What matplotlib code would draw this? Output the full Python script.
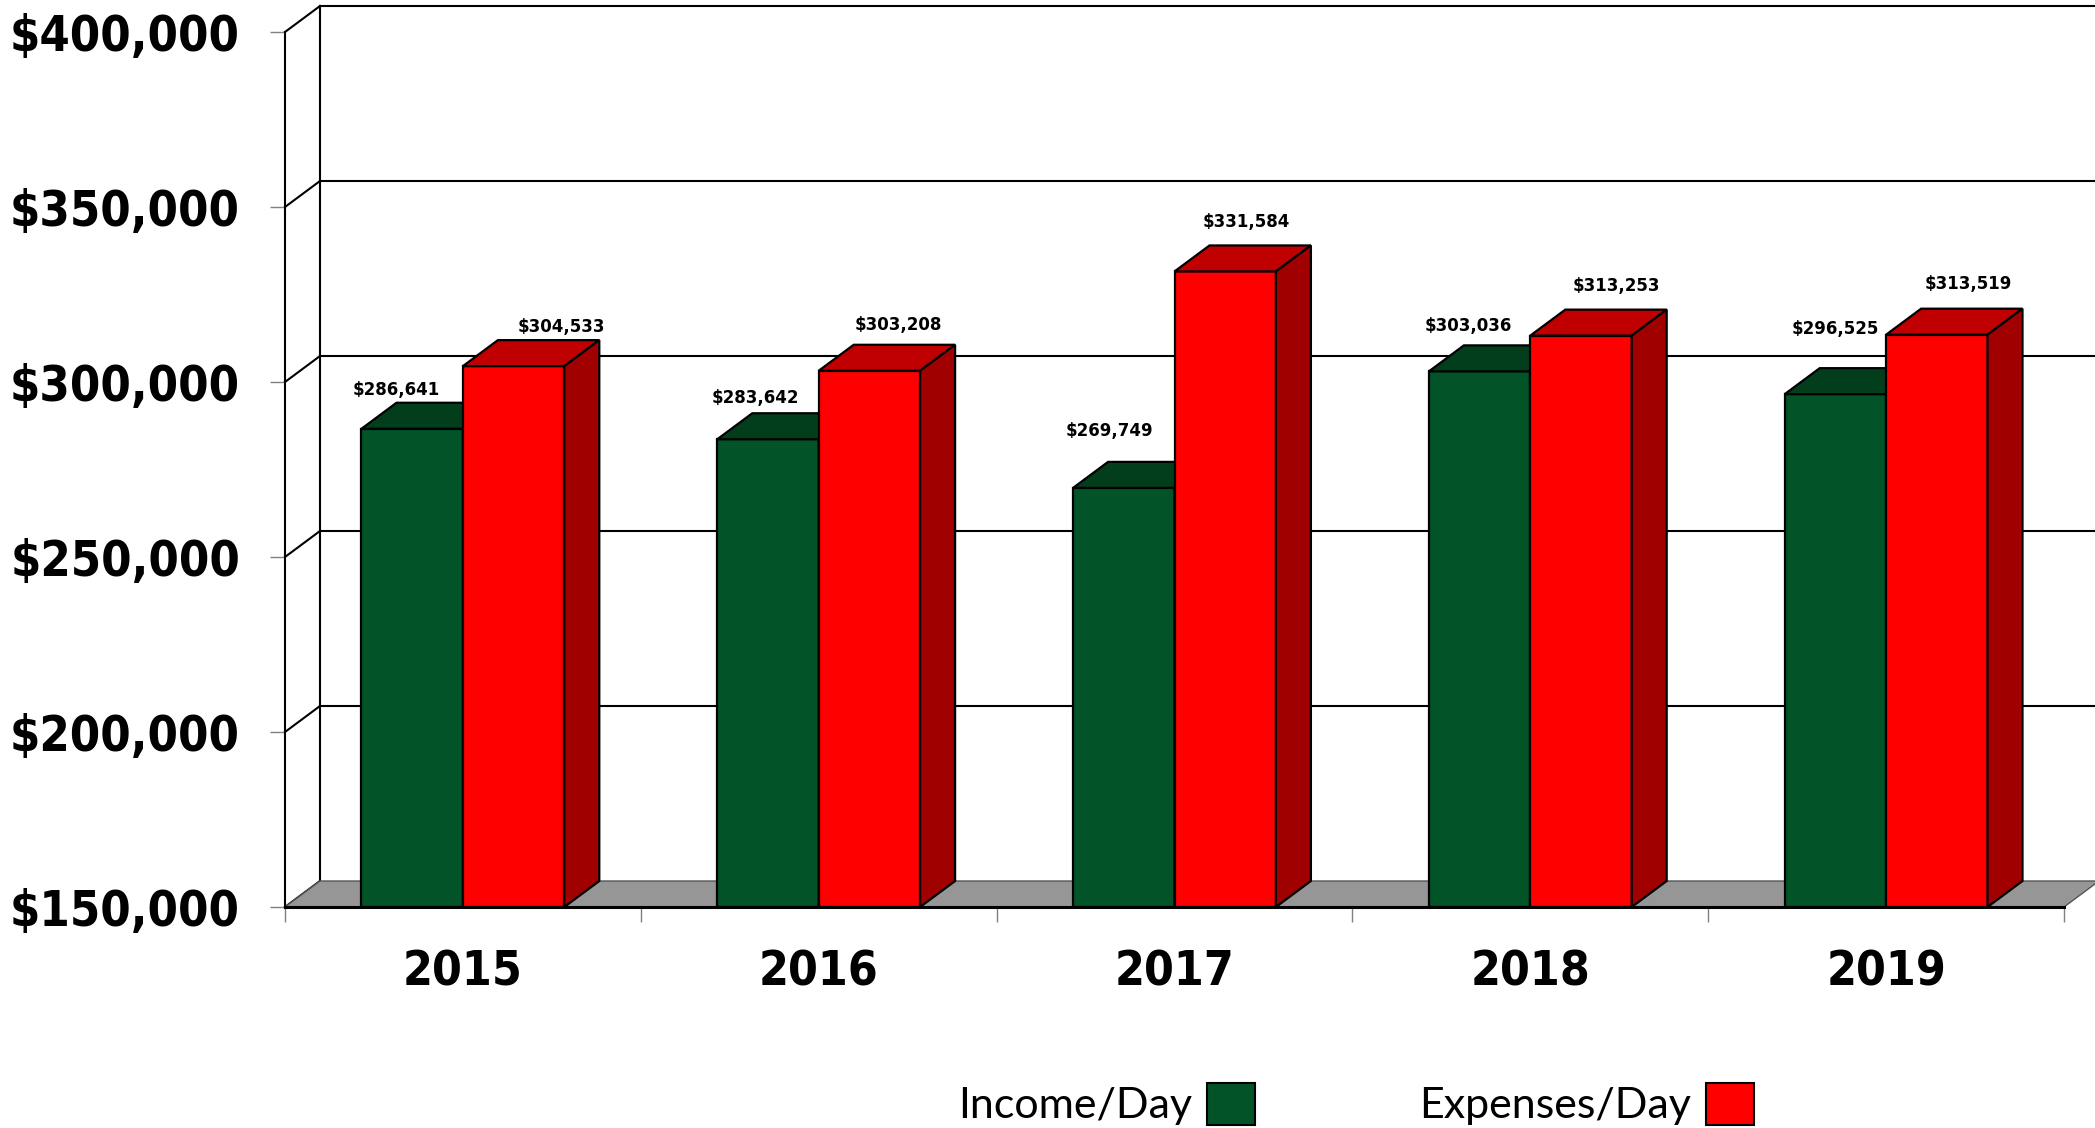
import matplotlib
matplotlib.use("Agg")
import matplotlib.pyplot as plt
from matplotlib.patches import Polygon, Patch
from matplotlib.font_manager import FontProperties
import numpy as np

# ---- data ----
years = ["2015", "2016", "2017", "2018", "2019"]
income_per_day = [286641, 283642, 269749, 303036, 296525]
expenses_per_day = [304533, 303208, 331584, 313253, 313519]
y_ticks = [150000, 200000, 250000, 300000, 350000, 400000]
series_names = ["Income/Day", "Expenses/Day"]

# value-label nudges in pixels (dx right, dy up) from the top-front centre of each bar
income_label_nudge = [(-16, 40), (-13, 43), (-14, 58), (-11, 47), (0, 67)]
expense_label_nudge = [(48, 41), (29, 47), (21, 51), (35, 51), (32, 52)]

# ---- style ----
GREEN_FRONT, GREEN_TOP, GREEN_SIDE = "#025428", "#033E1C", "#02361A"
RED_FRONT, RED_TOP, RED_SIDE = "#FF0000", "#C00000", "#A00000"
FLOOR = "#969696"
DEPTH_PX = (35, 26)          # 3-D depth offset on screen
BAR_W = 0.285

W, H, DPI = 2095, 1128, 100
fig = plt.figure(figsize=(W / DPI, H / DPI), dpi=DPI)
fig.patch.set_facecolor("white")
x0p, x1p, y_bot, y_top = 285, 2064, 907, 32
ax = fig.add_axes([x0p / W, 1 - y_bot / H, (x1p - x0p) / W, (y_bot - y_top) / H])
ax.set_xlim(-0.5, 4.5)
ax.set_ylim(150000, 400000)
ax.patch.set_visible(False)

bold_font = dict(family="DejaVu Sans", weight="bold", stretch="condensed")
label_font = dict(family="DejaVu Sans", weight="bold")

# depth offset in data units
p0 = ax.transData.transform((0, 150000))
p1 = ax.transData.inverted().transform((p0[0] + DEPTH_PX[0], p0[1] + DEPTH_PX[1]))
DX, DY = p1[0] - 0, p1[1] - 150000

ymin, ymax = y_ticks[0], y_ticks[-1]
xl, xr = -0.5, 4.5

# back wall and side-wall grid
ax.plot([xl + DX, xl + DX], [ymin + DY, ymax + DY], color="black", lw=1.5,
        clip_on=False, zorder=1)
for t in y_ticks:
    ax.plot([xl, xl + DX], [t, t + DY], color="black", lw=1.5, clip_on=False, zorder=1)
    if t > ymin:
        ax.plot([xl + DX, xr + DX + 1], [t + DY, t + DY], color="black", lw=1.5,
                clip_on=False, zorder=1)

# floor
floor = Polygon([(xl, ymin), (xr, ymin), (xr + DX, ymin + DY), (xl + DX, ymin + DY)],
                closed=True, facecolor=FLOOR, edgecolor="#555555", lw=1.0,
                clip_on=False, zorder=1.5)
ax.add_patch(floor)

# bars with top and side faces
z = 3.0
x = np.arange(len(years))
for i in range(len(years)):
    for v, off, cols in ((income_per_day[i], -BAR_W, (GREEN_FRONT, GREEN_TOP, GREEN_SIDE)),
                         (expenses_per_day[i], 0.0, (RED_FRONT, RED_TOP, RED_SIDE))):
        bx = x[i] + off
        ax.bar(bx, v - ymin, bottom=ymin, width=BAR_W, align="edge", color=cols[0],
               edgecolor="black", linewidth=1.6, zorder=z, clip_on=False)
        top = Polygon([(bx, v), (bx + BAR_W, v), (bx + BAR_W + DX, v + DY), (bx + DX, v + DY)],
                      closed=True, facecolor=cols[1], edgecolor="black", lw=1.6,
                      zorder=z + 0.01, clip_on=False)
        side = Polygon([(bx + BAR_W, ymin), (bx + BAR_W + DX, ymin + DY),
                        (bx + BAR_W + DX, v + DY), (bx + BAR_W, v)],
                       closed=True, facecolor=cols[2], edgecolor="black", lw=1.6,
                       zorder=z + 0.02, clip_on=False)
        ax.add_patch(top)
        ax.add_patch(side)
        z += 0.1

# value labels
for i in range(len(years)):
    for v, off, nudge in ((income_per_day[i], -BAR_W / 2, income_label_nudge[i]),
                          (expenses_per_day[i], BAR_W / 2, expense_label_nudge[i])):
        ax.annotate(f"${v:,}", xy=(x[i] + off, v), xytext=(nudge[0], nudge[1] - 6.5),
                    textcoords="offset pixels", ha="center", va="baseline",
                    fontsize=12, zorder=10, annotation_clip=False, **label_font)

# axes lines and ticks
for s in ("top", "right"):
    ax.spines[s].set_visible(False)
ax.spines["left"].set_color("black")
ax.spines["left"].set_linewidth(1.5)
ax.spines["bottom"].set_color("black")
ax.spines["bottom"].set_linewidth(2.2)
ax.spines["bottom"].set_zorder(20)

ax.set_yticks(y_ticks)
ax.set_yticklabels([f"${t:,}" for t in y_ticks], fontsize=35, **bold_font)
ax.tick_params(axis="y", length=10.8, width=1.0, color="#808080", pad=21.6)

ax.set_xticks(x)
ax.set_xticklabels([])
ax.tick_params(axis="x", which="major", length=0)
ax.set_xticks(np.arange(-0.5, len(years), 1.0), minor=True)
ax.tick_params(axis="x", which="minor", length=10.8, width=1.0, color="#808080")

for i, yr in enumerate(years):
    ax.annotate(yr, xy=(x[i], ymin), xytext=(0, -78.5), textcoords="offset pixels",
                ha="center", va="baseline", fontsize=34.5, annotation_clip=False,
                **bold_font)

# legend: label followed by its swatch
handles = [Patch(facecolor=GREEN_FRONT, edgecolor="black", linewidth=1.5),
           Patch(facecolor=RED_FRONT, edgecolor="black", linewidth=1.5)]
fig.legend(handles=handles, labels=series_names, loc="center",
           bbox_to_anchor=(1356 / W, 1 - 1104 / H), ncol=2, markerfirst=False,
           frameon=False, prop=FontProperties(family="Lato", size=31),
           handlelength=1.12, handleheight=1.14, handletextpad=0.35,
           columnspacing=3.8, borderpad=0, borderaxespad=0)

fig.savefig("out.png", dpi=DPI, facecolor="white")
